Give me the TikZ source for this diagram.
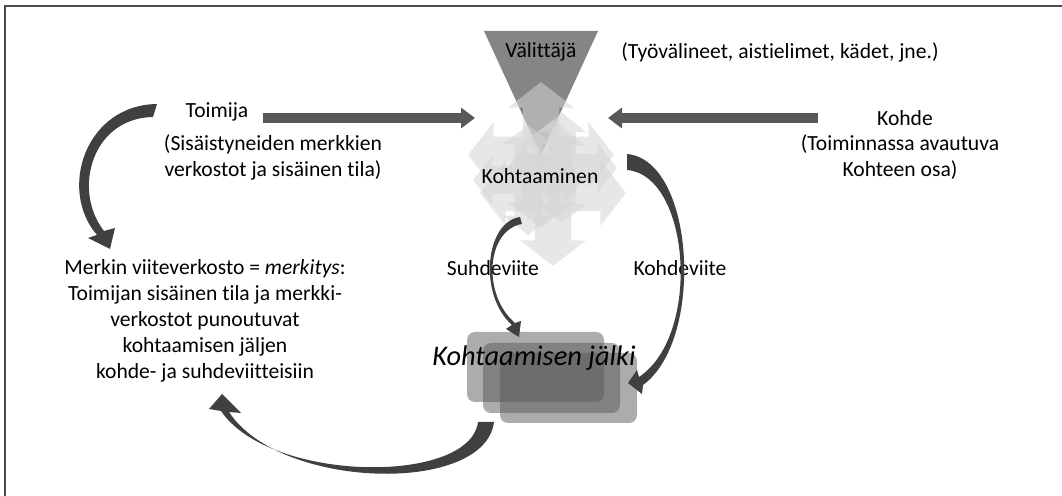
\documentclass[tikz,border=0pt]{standalone}
\usepackage{fontspec}
\setmainfont{Carlito}[Ligatures=NoCommon]
\usetikzlibrary{arrows.meta,positioning}

\tikzset{quadarrow/.pic={
  \fill[quad] (0.25,0.25) -- (0.65,0.25) -- (0.65,0.45) -- (1,0) -- (0.65,-0.45) -- (0.65,-0.25)
    -- (0.25,-0.25) -- (0.25,-0.65) -- (0.45,-0.65) -- (0,-1) -- (-0.45,-0.65) -- (-0.25,-0.65)
    -- (-0.25,-0.25) -- (-0.65,-0.25) -- (-0.65,-0.45) -- (-1,0) -- (-0.65,0.45) -- (-0.65,0.25)
    -- (-0.25,0.25) -- (-0.25,0.65) -- (-0.45,0.65) -- (0,1) -- (0.45,0.65) -- (0.25,0.65) -- cycle;}}

\begin{document}
\begin{tikzpicture}
          [x=0.5pt,y=-0.5pt,
            every node/.style={font=\fontsize{10.8}{13}\selectfont,align=center,inner sep=0pt},
            flat/.style={draw=black!65,line width=5pt,-{Triangle[length=7pt,width=10pt]}},
            curvearrow/.style={fill=black!75},
            trace/.style={fill=black!65,opacity=0.5,rounded corners=4pt},
            quad/.style={fill=black!17,opacity=0.55}]
          \useasboundingbox (0,0) rectangle (1062,496);
          \draw[black!70,line width=1pt] (1062,6.5) -- (4.5,6.5) -- (4.5,496);
          % mediator and meeting
          \fill[black!48] (484,31) -- (598,31) -- (541,155) -- cycle;
          \pic[scale=73] at (541,155) {quadarrow};
          \pic[scale=73] at (553,193) {quadarrow};
          \pic[scale=55] at (528,180) {quadarrow};
          \pic[scale=55] at (562,168) {quadarrow};
          % trace boxes
          \fill[trace] (467,332) rectangle (604,402);
          \fill[trace] (483,343) rectangle (620,413);
          \fill[trace] (500,353) rectangle (637,423);
          % texts
          \node (valittaja) at (541,52) {Välittäjä};
          \node (valineet) at (780,52) {(Työvälineet, aistielimet, kädet, jne.)};
          \node (toimija) at (217,112) {Toimija};
          \node (toimijatila) at (273,157) {(Sisäistyneiden merkkien\\verkostot ja sisäinen tila)};
          \node (kohde) at (905,118) {Kohde};
          \node (kohdeosa) at (900,157) {(Toiminnassa avautuva\\Kohteen osa)};
          \node (kohtaaminen) at (540,176) {Kohtaaminen};
          \node (merkitys) at (205,321) {Merkin viiteverkosto = \textit{merkitys}:\\Toimijan sisäinen tila ja merkki-\\verkostot punoutuvat\\kohtaamisen jäljen\\kohde- ja suhdeviitteisiin};
          \node (suhde) at (493,268) {Suhdeviite};
          \node (kohdeviite) at (680,268) {Kohdeviite};
          \node[font=\fontsize{14.2}{17}\selectfont\itshape] (jalki) at (534,358) {Kohtaamisen jälki};
          % straight arrows
          \coordinate (toimijatail) at (263,118);
          \coordinate (meetwest) at (475,118);
          \coordinate (kohdetail) at (818,118);
          \coordinate (meeteast) at (608,118);
          \foreach \from/\to in {toimijatail/meetwest,kohdetail/meeteast}
          \draw[flat] (\from) -- (\to);
          % curved arrows
          \fill[curvearrow] (157,104) .. controls (85,105) and (58,190) .. (97,235) -- (88,238) -- (110,249)
            -- (115,228) -- (104,231) .. controls (72,190) and (92,118) .. (153,117) -- cycle;
          \fill[curvearrow] (478,422) -- (494,422) .. controls (485,495) and (280,490) .. (229,412) -- (241,413)
            -- (222,394) -- (209,409) -- (221,411) .. controls (270,483) and (470,485) .. (478,422) -- cycle;
          \fill[curvearrow] (520,217) .. controls (485,222) and (478,295) .. (512,325) -- (506,329) -- (519,337)
            -- (521,321) -- (515,323) .. controls (482,295) and (486,230) .. (522,224) -- cycle;
          \fill[curvearrow] (627,154) .. controls (695,160) and (705,340) .. (643,385) -- (642,394) -- (628,383)
            -- (637,370) -- (639,377) .. controls (702,335) and (690,175) .. (627,170) -- cycle;
        \end{tikzpicture}
\end{document}
